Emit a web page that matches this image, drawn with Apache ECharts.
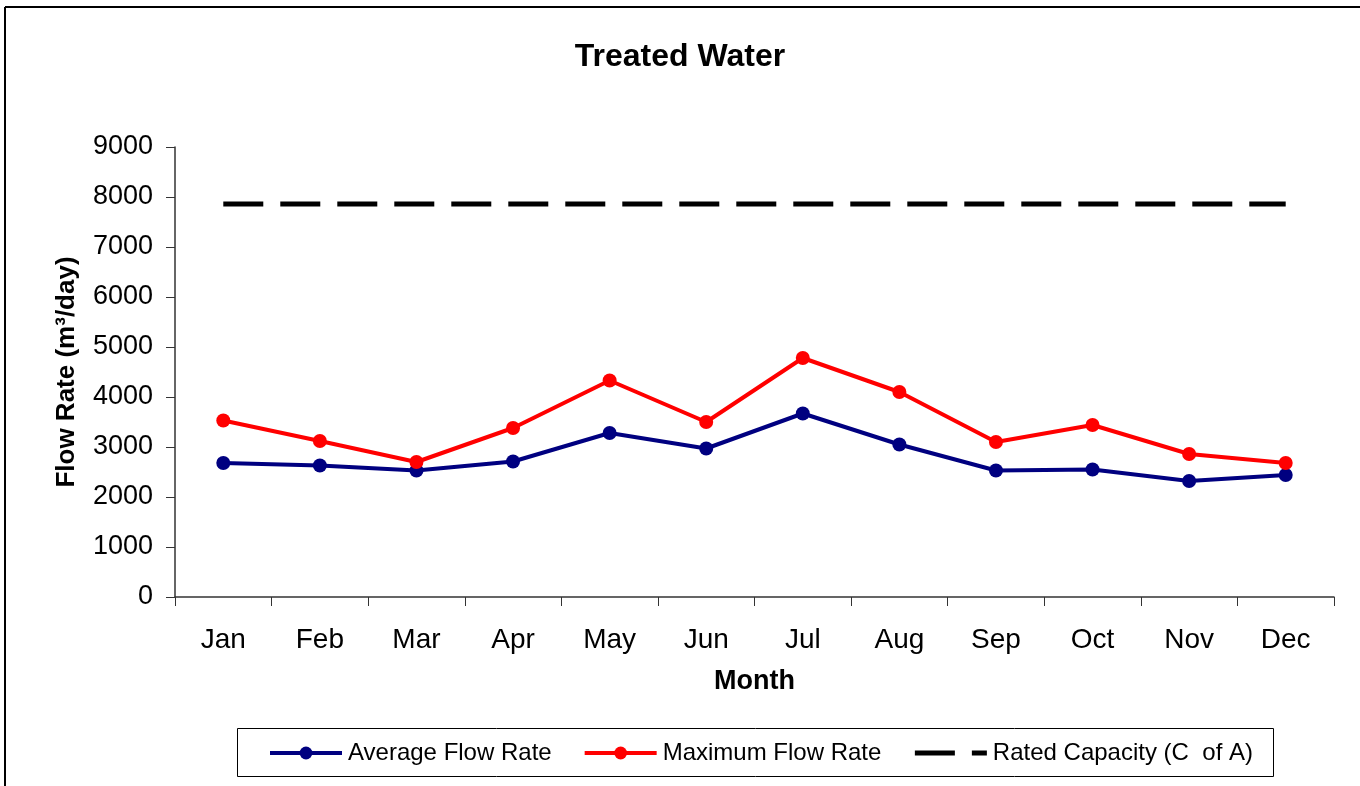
<!DOCTYPE html>
<html><head><meta charset="utf-8">
<script src="https://cdn.jsdelivr.net/npm/echarts@6/dist/echarts.min.js"></script>
<style>html,body{margin:0;padding:0;background:#fff}#c{width:1360px;height:786px}</style>
</head><body><div id="c"></div>
<script>
const months = ['Jan','Feb','Mar','Apr','May','Jun','Jul','Aug','Sep','Oct','Nov','Dec'];
const averageFlow = [2680, 2630, 2530, 2710, 3280, 2970, 3670, 3050, 2530, 2550, 2320, 2440];
const maximumFlow = [3530, 3120, 2700, 3380, 4330, 3500, 4780, 4100, 3100, 3440, 2860, 2680];
const ratedCapacity = [7860, 7860, 7860, 7860, 7860, 7860, 7860, 7860, 7860, 7860, 7860, 7860];
const yTicks = [0, 1000, 2000, 3000, 4000, 5000, 6000, 7000, 8000, 9000];

const chart = echarts.init(document.getElementById('c'));
const font = 'Liberation Sans, Arial, sans-serif';
chart.setOption({
  animation: false,
  graphic: [{
    type: 'line', shape: {x1: 5, y1: 7, x2: 1360, y2: 7},
    style: {stroke: '#000', lineWidth: 2}, silent: true
  }, {
    type: 'line', shape: {x1: 5, y1: 7, x2: 5, y2: 786},
    style: {stroke: '#000', lineWidth: 2}, silent: true
  }, {
    type: 'rect', shape: {x: 237.5, y: 728.5, width: 1036, height: 48},
    style: {fill: 'none', stroke: '#000', lineWidth: 1}, silent: true
  }],
  title: {
    text: 'Treated Water', left: 'center', top: 36,
    textStyle: {fontFamily: font, fontSize: 32, fontWeight: 'bold', color: '#000'}
  },
  legend: {
    top: 736, left: 263, itemWidth: 72, itemHeight: 16, itemGap: 31,
    textStyle: {fontFamily: font, fontSize: 24, color: '#000', padding: [0, 0, 0, 1]},
    data: [
      {name: 'Average Flow Rate', lineStyle: {width: 4}},
      {name: 'Maximum Flow Rate', lineStyle: {width: 4}},
      {name: 'Rated Capacity (C  of A)', lineStyle: {width: 5}, itemStyle: {opacity: 0}}
    ]
  },
  grid: {left: 175, right: 26, top: 147, bottom: 189, containLabel: false},
  xAxis: {
    type: 'category', data: months, boundaryGap: true,
    name: 'Month', nameLocation: 'middle', nameGap: 71,
    nameTextStyle: {fontFamily: font, fontSize: 27, fontWeight: 'bold', color: '#000'},
    axisLine: {lineStyle: {color: '#333', width: 1.5}},
    axisTick: {show: true, length: 9, lineStyle: {color: '#333'}},
    axisLabel: {fontFamily: font, fontSize: 28, color: '#000', margin: 29}
  },
  yAxis: {
    type: 'value', min: yTicks[0], max: yTicks[yTicks.length - 1], interval: 1000,
    name: 'Flow Rate (m³/day)', nameLocation: 'middle', nameGap: 95,
    nameTextStyle: {fontFamily: font, fontSize: 26, fontWeight: 'bold', color: '#000'},
    axisLine: {show: true, lineStyle: {color: '#333', width: 1.5}},
    axisTick: {show: true, length: 9, lineStyle: {color: '#333'}},
    axisLabel: {fontFamily: font, fontSize: 27, color: '#000', margin: 22, formatter: v => String(v)},
    splitLine: {show: false}
  },
  series: [{
    name: 'Average Flow Rate', type: 'line', data: averageFlow,
    symbol: 'circle', symbolSize: 14,
    lineStyle: {color: '#000080', width: 4}, itemStyle: {color: '#000080'}
  }, {
    name: 'Maximum Flow Rate', type: 'line', data: maximumFlow,
    symbol: 'circle', symbolSize: 14,
    lineStyle: {color: '#ff0000', width: 4}, itemStyle: {color: '#ff0000'}
  }, {
    name: 'Rated Capacity (C  of A)', type: 'line', data: ratedCapacity,
    symbol: 'none',
    lineStyle: {color: '#000', width: 5, type: [40, 17]}, itemStyle: {color: '#000'}
  }]
});
</script></body></html>
